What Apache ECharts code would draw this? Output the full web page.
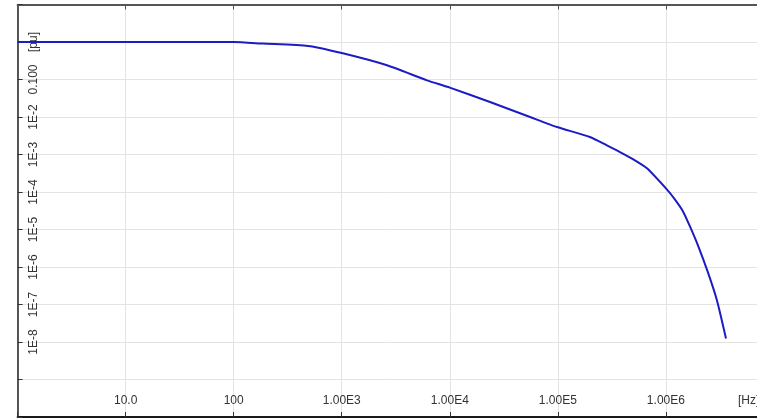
<!DOCTYPE html>
<html>
<head>
<meta charset="utf-8">
<script src="https://cdn.jsdelivr.net/npm/echarts@6/dist/echarts.min.js"></script>
<style>
html,body{margin:0;padding:0;background:#fff;}
#chart{width:757px;height:420px;}
</style>
</head>
<body>
<div id="chart"></div>
<script>
// Frequency response
var freqHz = [1, 100, 187, 487, 1000, 2620, 6150, 10000, 23560, 55300, 98200, 198000, 284600, 376000, 517000, 668000, 1020000, 1210000, 1440000, 1670000, 1980000, 2450000, 2970000, 3600000];
var magPu  = [1, 1, 0.906, 0.782, 0.506, 0.239, 0.0951, 0.0607, 0.0251, 0.00998, 0.0054, 0.00292, 0.00175, 0.00116, 6.98e-4, 4.27e-4, 1.17e-4, 6.35e-5, 3.04e-5, 1.21e-5, 3.77e-6, 7.16e-7, 1.28e-7, 1.24e-8];

var xTickExps   = [1, 2, 3, 4, 5, 6];
var xTickLabels = ['10.0', '100', '1.00E3', '1.00E4', '1.00E5', '1.00E6'];
var yTickExps   = [0, -1, -2, -3, -4, -5, -6, -7, -8];
var yTickLabels = ['[pu]', '0.100', '1E-2', '1E-3', '1E-4', '1E-5', '1E-6', '1E-7', '1E-8'];
var xUnit = '[Hz]';
var xMax = 6.97e6; // right edge of the visible plot

function labelFor(v, exps, labels) {
  var l = Math.log10(v);
  var e = Math.round(l);
  if (Math.abs(l - e) > 0.01) return '';
  var i = exps.indexOf(e);
  return i >= 0 ? labels[i] : '';
}

var data = freqHz.map(function (f, i) { return [f, magPu[i]]; });

var chart = echarts.init(document.getElementById('chart'), null, {renderer: 'canvas'});
var font = 'Liberation Sans, Arial, sans-serif';
chart.setOption({
  animation: false,
  backgroundColor: '#ffffff',
  grid: {left: 17.6, top: 4.5, right: 0, height: 412.5, containLabel: false},
  xAxis: [{
    type: 'log', logBase: 10, min: 1, max: xMax, interval: 1, position: 'bottom',
    axisLine: {show: true, onZero: false, lineStyle: {color: '#1a1a1a', width: 2}},
    axisTick: {show: true, inside: true, length: 5, lineStyle: {color: '#333'}},
    axisLabel: {inside: true, margin: 10, color: '#333', fontFamily: font, fontSize: 12,
      showMinLabel: true, showMaxLabel: false,
      formatter: function (v) { return labelFor(v, xTickExps, xTickLabels); }},
    splitLine: {show: true, lineStyle: {color: '#e3e3e3', width: 1}}
  }, {
    type: 'log', logBase: 10, min: 1, max: xMax, interval: 1, position: 'top',
    axisLine: {show: true, onZero: false, lineStyle: {color: '#555', width: 2}},
    axisTick: {show: true, inside: true, length: 5, lineStyle: {color: '#555'}},
    axisLabel: {show: false},
    splitLine: {show: false}
  }],
  yAxis: {
    type: 'log', logBase: 10, min: 1e-10, max: 10, interval: 1, position: 'left',
    axisLine: {show: true, onZero: false, lineStyle: {color: '#222', width: 1.5}},
    axisTick: {show: true, inside: true, length: 5, lineStyle: {color: '#333'}},
    axisLabel: {inside: true, rotate: 90, margin: 10, color: '#333', fontFamily: font, fontSize: 12,
      formatter: function (v) { return labelFor(v, yTickExps, yTickLabels); }},
    splitLine: {show: true, lineStyle: {color: '#e3e3e3', width: 1}}
  },
  graphic: [{
    type: 'text', left: 738, top: 395,
    style: {text: xUnit, fill: '#333', font: '12px ' + font}
  }],
  series: [{
    type: 'line', xAxisIndex: 0, data: data, showSymbol: false, smooth: 0.2,
    lineStyle: {color: '#1c1cc4', width: 2}
  }]
});
</script>
</body>
</html>
